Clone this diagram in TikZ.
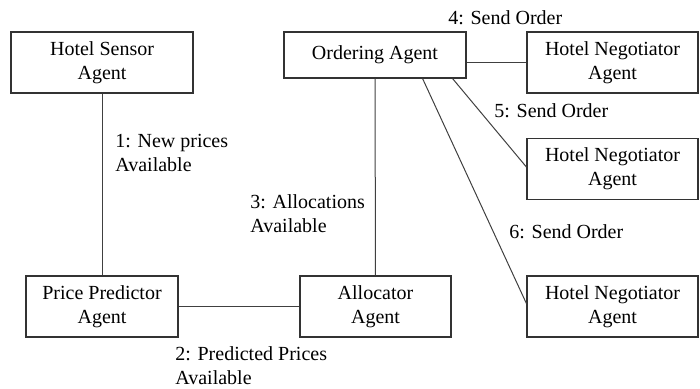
\documentclass[tikz,border=0pt]{standalone}
\usepackage{fontspec}
\setmainfont{Liberation Serif}
\begin{document}
\begin{tikzpicture}[x=0.5pt,y=-0.5pt,
        agent/.style={draw=black!80,line width=0.6pt,align=center,inner sep=0pt,
            minimum height=30.5pt,font=\fontsize{10}{12}\selectfont},
        msg/.style={align=left,inner sep=0pt,anchor=west,font=\fontsize{10}{12}\selectfont},
        link/.style={draw=black!75,line width=0.5pt}]
            \useasboundingbox (0,0) rectangle (700,388);
            % agents
            \node [agent,minimum width=91pt] (sensor) at (102,62.5) {Hotel Sensor\\Agent};
            \node [agent,minimum width=91pt,minimum height=23pt] (order) at (375,55) {Ordering Agent};
            \node [agent,minimum width=85.5pt] (neg1) at (612.5,62.5) {Hotel Negotiator\\Agent};
            \node [agent,minimum width=85.5pt] (neg2) at (612.5,169) {Hotel Negotiator\\Agent};
            \node [agent,minimum width=85.5pt] (neg3) at (612.5,306.5) {Hotel Negotiator\\Agent};
            \node [agent,minimum width=76pt] (predictor) at (102,306.5) {Price Predictor\\Agent};
            \node [agent,minimum width=75.5pt] (allocator) at (375.5,306.5) {Allocator\\Agent};
            % links
            \draw [link] (sensor) -- (predictor);
            \draw [link] (predictor) -- (allocator);
            \draw [link] (allocator) -- (order);
            \draw [link] (order.east |- neg1.west) -- (neg1.west);
            \draw [link] ([xshift=-7pt]order.south east) -- ([yshift=1pt]neg2.west);
            \draw [link] ([xshift=-22pt]order.south east) -- ([yshift=1.5pt]neg3.west);
            % messages
            \node [msg] (m1) at (115,152.5) {1: New prices\\Available};
            \node [msg] (m2) at (175,366) {2: Predicted Prices\\Available};
            \node [msg] (m3) at (250,214) {3: Allocations\\Available};
            \node [msg] (m4) at (448,18) {4: Send Order};
            \node [msg] (m5) at (494,111) {5: Send Order};
            \node [msg] (m6) at (509,232) {6: Send Order};
        \end{tikzpicture}
\end{document}
